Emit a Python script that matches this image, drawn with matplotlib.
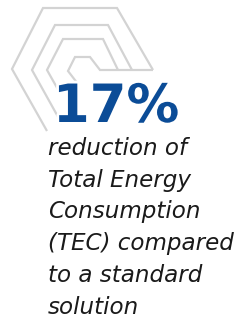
import matplotlib
matplotlib.use("Agg")
import matplotlib.pyplot as plt
import matplotlib.patheffects as pe

W, H = 251, 318
value_label = "17%"
body_lines = ["reduction of", "Total Energy", "Consumption", "(TEC) compared", "to a standard", "solution"]

blue = "#0b4c97"
grey = "#d3d3d3"

# decorative nested hexagon outlines (open on lower right)
hex_paths = [
    [(47, 131), (12, 69), (43, 8), (117, 8), (153, 70)],
    [(62, 124), (32, 70), (55, 25), (108, 25), (132, 70)],
    [(60, 93), (47, 70), (63, 39), (103, 39), (118, 70)],
    [(78, 84), (68, 71), (75, 57), (90, 57), (100, 70), (153, 70)],
]

fig = plt.figure(figsize=(W / 100, H / 100), dpi=100)
ax = fig.add_axes([0, 0, 1, 1])
ax.set_xlim(0, W)
ax.set_ylim(H, 0)
ax.axis("off")

for path in hex_paths:
    xs, ys = zip(*path)
    ax.plot(xs, ys, color=grey, lw=1.6, solid_joinstyle="miter", solid_capstyle="butt", zorder=1)

ax.text(53, 122, value_label, color=blue, fontsize=38, fontweight="bold",
        family="DejaVu Sans", ha="left", va="baseline", zorder=3,
        path_effects=[pe.withStroke(linewidth=4, foreground="white")])

y0 = 155
dy = 31.7
for i, line in enumerate(body_lines):
    ax.text(48, y0 + i * dy, line, color="#1a1a1a", fontsize=16.6, style="italic",
            family="DejaVu Sans", ha="left", va="baseline", zorder=3)

fig.savefig("out.png", dpi=100)
